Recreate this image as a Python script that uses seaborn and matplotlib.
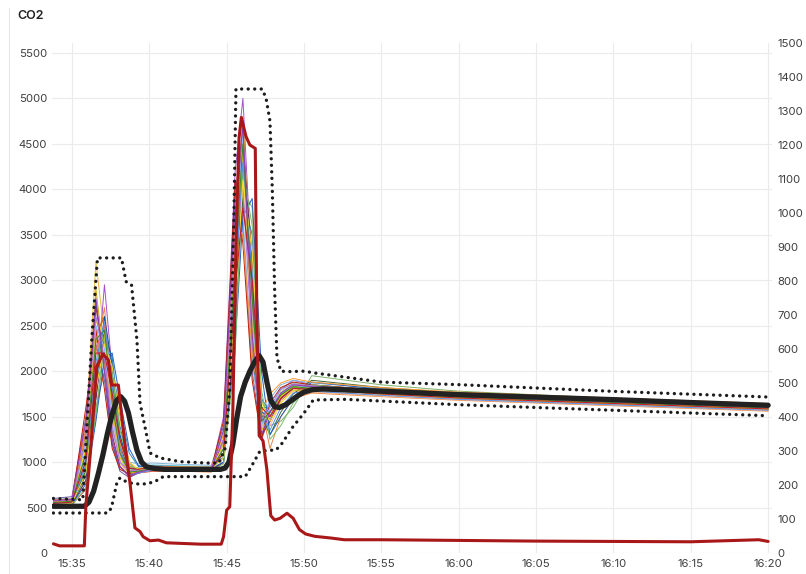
import matplotlib
matplotlib.use("Agg")
import numpy as np
import pandas as pd
import seaborn as sns
import matplotlib.pyplot as plt
from matplotlib.lines import Line2D

# ---------------- data (time in minutes after 15:00) ----------------
sensor_time = [33.8, 35.0, 35.9, 36.55, 37.1, 37.6, 38.1, 38.7, 39.3, 40.2, 42.0, 44.0, 44.8,
               45.55, 46.05, 46.65, 47.25, 47.8, 48.5, 49.3, 50.5, 55, 60, 70, 80]

sensor_01 = [560, 570, 1400, 3200, 2400, 1500, 1000, 900, 920, 950, 940, 930, 1200, 3500, 4300, 2600, 1400, 1550, 1750, 1850, 1820, 1760, 1720, 1660, 1600]
sensor_02 = [540, 600, 900, 1800, 2950, 2000, 1100, 880, 900, 930, 920, 910, 1500, 4200, 5000, 3000, 1500, 1600, 1800, 1900, 1850, 1790, 1740, 1680, 1620]
sensor_03 = [520, 550, 1100, 2750, 2000, 1200, 950, 850, 900, 960, 950, 940, 1100, 3000, 4600, 2200, 1300, 1450, 1700, 1820, 1800, 1750, 1710, 1650, 1590]
sensor_04 = [530, 560, 800, 1500, 2300, 2100, 1300, 950, 930, 940, 930, 920, 1000, 2400, 4000, 3800, 1700, 1400, 1450, 1600, 1950, 1850, 1780, 1700, 1640]
sensor_05 = [580, 590, 1200, 2600, 2200, 1400, 1000, 920, 940, 970, 960, 950, 1300, 3900, 4500, 2400, 1500, 1650, 1800, 1870, 1840, 1780, 1730, 1670, 1610]
sensor_06 = [550, 560, 1000, 2200, 2700, 1800, 1100, 870, 880, 900, 900, 890, 1000, 2600, 4400, 3300, 1600, 1150, 1500, 1700, 1760, 1720, 1680, 1620, 1560]
sensor_07 = [510, 530, 700, 1600, 2000, 1900, 1500, 1000, 880, 900, 910, 900, 1100, 3200, 4700, 2800, 1400, 1500, 1700, 1800, 1790, 1740, 1700, 1640, 1580]
sensor_08 = [540, 550, 950, 2000, 2400, 2150, 1400, 950, 920, 950, 945, 935, 1200, 3600, 4200, 2500, 1350, 1550, 1750, 1840, 1830, 1770, 1720, 1660, 1600]
sensor_09 = [600, 620, 1500, 2300, 1900, 1200, 900, 830, 880, 930, 930, 930, 1400, 4000, 3600, 2000, 1250, 1500, 1720, 1830, 1810, 1760, 1710, 1650, 1590]
sensor_10 = [520, 540, 850, 1700, 2500, 1700, 1050, 900, 910, 940, 935, 925, 1050, 2900, 4100, 3000, 1600, 1600, 1750, 1820, 1800, 1750, 1705, 1645, 1585]
sensor_11 = [560, 580, 1300, 2900, 2100, 1300, 950, 880, 900, 930, 925, 915, 1150, 3400, 4800, 2700, 1450, 1500, 1760, 1860, 1830, 1770, 1720, 1660, 1600]
sensor_12 = [530, 545, 900, 1900, 2200, 2000, 1600, 1100, 950, 960, 950, 940, 1050, 2700, 3900, 3500, 1700, 1550, 1700, 1800, 1790, 1745, 1700, 1640, 1580]
sensor_13 = [570, 580, 1100, 2400, 2600, 1600, 1000, 860, 890, 920, 915, 905, 1250, 3700, 4300, 2300, 1300, 1450, 1680, 1790, 1780, 1735, 1690, 1630, 1570]
sensor_14 = [545, 560, 1000, 2100, 2300, 1750, 1150, 900, 910, 935, 930, 920, 1100, 3100, 4000, 2900, 1550, 1400, 1650, 1780, 1770, 1725, 1685, 1625, 1565]
sensor_15 = [590, 600, 1250, 2500, 2000, 1350, 1050, 1000, 980, 990, 975, 965, 1350, 3800, 3700, 2100, 1400, 1700, 1850, 1900, 1870, 1810, 1760, 1700, 1640]
sensor_16 = [520, 530, 800, 1700, 2450, 1850, 1200, 880, 890, 920, 915, 905, 1000, 2500, 4500, 3200, 1500, 1500, 1720, 1820, 1800, 1750, 1705, 1645, 1585]
sensor_17 = [555, 565, 1050, 2300, 2500, 1550, 1000, 850, 880, 915, 910, 900, 1200, 3300, 4100, 2600, 1350, 1550, 1740, 1830, 1810, 1760, 1715, 1655, 1595]
sensor_18 = [560, 575, 950, 2000, 2350, 1950, 1250, 920, 920, 945, 940, 930, 1150, 2800, 3800, 3100, 1650, 1600, 1780, 1870, 1850, 1790, 1745, 1685, 1625]
sensor_19 = [540, 555, 1150, 2650, 2300, 1450, 980, 860, 885, 915, 910, 900, 1300, 3500, 4200, 2400, 1400, 1500, 1690, 1800, 1790, 1740, 1700, 1640, 1580]
sensor_20 = [530, 540, 880, 1850, 2600, 2050, 1300, 930, 920, 945, 940, 930, 1050, 3000, 4400, 3000, 1550, 1500, 1700, 1810, 1800, 1750, 1705, 1645, 1585]
sensor_21 = [575, 590, 1350, 2700, 2150, 1300, 950, 840, 880, 920, 915, 905, 1250, 3700, 4600, 2500, 1300, 1450, 1700, 1820, 1810, 1760, 1715, 1655, 1595]
sensor_22 = [535, 550, 900, 1950, 2350, 1900, 1250, 900, 905, 930, 925, 915, 1100, 2900, 3900, 2800, 1500, 1300, 1550, 1750, 1900, 1820, 1760, 1690, 1630]
sensor_23 = [550, 565, 1000, 2250, 2500, 1700, 1100, 880, 895, 925, 920, 910, 1150, 3300, 4500, 2700, 1450, 1550, 1730, 1830, 1810, 1755, 1710, 1650, 1590]
sensor_24 = [545, 555, 950, 2050, 2400, 1800, 1150, 890, 900, 930, 925, 915, 1100, 3100, 4300, 2900, 1500, 1550, 1720, 1820, 1800, 1750, 1705, 1645, 1585]
sensor_25 = [565, 575, 1600, 2450, 1800, 1150, 920, 870, 900, 935, 930, 925, 1450, 4100, 3400, 1900, 1250, 1650, 1820, 1880, 1850, 1790, 1740, 1675, 1615]
sensor_26 = [525, 535, 760, 1450, 2150, 2200, 1700, 1150, 960, 950, 940, 930, 1000, 2300, 3700, 3900, 2000, 1300, 1500, 1700, 1880, 1800, 1750, 1680, 1620]
sensor_27 = [550, 560, 1050, 2500, 2250, 1500, 1050, 900, 905, 935, 930, 920, 1150, 3400, 4600, 2600, 1400, 1600, 1760, 1840, 1820, 1765, 1720, 1660, 1600]
sensor_28 = [585, 595, 1350, 2350, 2050, 1650, 1200, 950, 930, 955, 950, 945, 1300, 3600, 3500, 2200, 1550, 1750, 1870, 1920, 1880, 1820, 1770, 1705, 1645]
sensor_29 = [515, 525, 720, 1550, 2350, 1950, 1350, 980, 900, 920, 915, 905, 980, 2200, 4200, 3600, 1800, 1250, 1400, 1650, 1850, 1780, 1730, 1665, 1605]
sensor_30 = [560, 570, 1150, 2550, 2400, 1600, 1050, 880, 895, 925, 920, 910, 1200, 3300, 4400, 2500, 1350, 1500, 1720, 1830, 1810, 1755, 1710, 1650, 1590]
sensor_31 = [540, 550, 980, 2100, 2550, 1850, 1150, 860, 880, 910, 905, 895, 1100, 3000, 4300, 3100, 1500, 1350, 1600, 1760, 1780, 1735, 1690, 1630, 1570]
sensor_32 = [570, 585, 1250, 2600, 2150, 1400, 1000, 900, 915, 945, 940, 930, 1250, 3500, 4000, 2300, 1450, 1650, 1800, 1860, 1840, 1785, 1735, 1670, 1610]
sensor_33 = [535, 545, 880, 1800, 2300, 2050, 1450, 1000, 920, 935, 930, 920, 1050, 2700, 4100, 3300, 1650, 1450, 1650, 1790, 1800, 1750, 1705, 1645, 1585]
sensor_34 = [555, 570, 1100, 2350, 2450, 1650, 1100, 890, 900, 930, 925, 915, 1150, 3200, 4500, 2800, 1450, 1550, 1740, 1830, 1810, 1760, 1715, 1655, 1595]
sensor_35 = [545, 560, 1020, 2200, 2200, 1750, 1250, 930, 920, 945, 940, 930, 1100, 2900, 3800, 3000, 1600, 1500, 1700, 1810, 1800, 1750, 1705, 1645, 1585]
sensor_36 = [580, 590, 1450, 2800, 2000, 1250, 950, 850, 890, 925, 920, 910, 1350, 3900, 4700, 2400, 1300, 1550, 1760, 1850, 1830, 1775, 1725, 1665, 1605]

sensors = [sensor_01, sensor_02, sensor_03, sensor_04, sensor_05, sensor_06, sensor_07, sensor_08,
           sensor_09, sensor_10, sensor_11, sensor_12, sensor_13, sensor_14, sensor_15, sensor_16,
           sensor_17, sensor_18, sensor_19, sensor_20, sensor_21, sensor_22, sensor_23, sensor_24,
           sensor_25, sensor_26, sensor_27, sensor_28, sensor_29, sensor_30, sensor_31, sensor_32,
           sensor_33, sensor_34, sensor_35, sensor_36]

sensor_colors = ["#EAB839", "#A352CC", "#0A437C", "#7EB26D", "#6ED0E0", "#EF843C", "#E24D42", "#1F78C1",
                 "#705DA0", "#508642", "#CCA300", "#447EBC", "#C15C17", "#F9BA8F", "#82B5D8", "#6D1F62",
                 "#E5A8E2", "#B7DBAB", "#F4D598", "#0A50A1", "#962D82", "#3F6833", "#EA6460", "#629E51",
                 "#BF1B00", "#1F60C4", "#8AB8FF", "#FF9830", "#73BF69", "#F2CC0C", "#5794F2", "#B877D9",
                 "#FADE2A", "#37872D", "#C4162A", "#8F3BB8"]

mean_time = [33.8, 35.8, 36.1, 36.4, 36.7, 37.0, 37.3, 37.6, 37.9, 38.15, 38.4, 38.65, 38.9,
             39.2, 39.5, 39.8, 40.3, 41.0, 44.6, 44.9, 45.15, 45.4, 45.65, 45.9, 46.2, 46.5,
             46.8, 47.1, 47.35, 47.6, 47.85, 48.1, 48.4, 48.8, 49.2, 49.6, 50.0, 50.5, 51.2,
             55, 60, 65, 70, 75, 80]
mean_value = [514, 514, 560, 680, 870, 1080, 1320, 1530, 1680, 1720, 1670, 1540, 1340,
              1130, 1000, 950, 930, 920, 920, 935, 1000, 1200, 1480, 1720, 1880, 2000,
              2100, 2170, 2100, 1880, 1680, 1610, 1600, 1630, 1680, 1730, 1770, 1795, 1805,
              1780, 1742, 1715, 1687, 1655, 1625]

max_time = [33.8, 35.7, 36.0, 36.3, 36.65, 38.2, 38.5, 38.85, 39.2, 39.4, 39.8, 40.05, 40.7, 42.0,
            43.7, 44.5, 44.9, 45.2, 45.45, 45.6, 47.3, 47.55, 47.8, 47.95, 48.1, 48.25, 48.5,
            49.0, 50.0, 50.7, 55, 60, 70, 80]
max_value = [600, 585, 1500, 2400, 3246, 3246, 2985, 2950, 2343, 1650, 1320, 1100, 1045, 1005,
             990, 990, 1150, 1800, 3500, 5104, 5104, 5000, 4750, 4000, 2900, 2150, 2000,
             1995, 2000, 1980, 1880, 1852, 1778, 1716]

min_time = [33.8, 37.3, 37.55, 37.9, 38.1, 38.5, 39.0, 39.8, 40.35, 40.9, 42.0, 44.6, 46.2,
            46.65, 47.15, 48.2, 48.6, 49.2, 50.0, 50.6, 52.7, 60, 70, 80]
min_value = [440, 440, 495, 770, 825, 785, 760, 760, 785, 840, 840, 840, 840,
             968, 1120, 1135, 1210, 1370, 1540, 1683, 1690, 1631, 1570, 1510]

red_time = [33.8, 34.2, 35.8, 35.9, 36.2, 36.6, 37.0, 37.35, 37.57, 38.0, 38.1, 38.4, 38.75,
            39.07, 39.4, 39.6, 40.04, 40.6, 41.1, 43.3, 44.65, 44.8, 45.0, 45.2, 45.4, 45.6,
            45.8, 45.95, 46.25, 46.5, 46.85, 46.95, 47.1, 47.35, 47.6, 47.85, 48.1, 48.45,
            48.9, 49.3, 49.7, 50.1, 50.7, 51.75, 52.6, 55, 60, 65, 70, 75, 79.4, 80]
red_value = [27, 21, 21, 140, 300, 548, 585, 568, 494, 494, 450, 330, 206,
             74, 63, 48, 36, 38, 30, 26, 26, 48, 126, 136, 420, 900,
             1220, 1281, 1225, 1200, 1190, 700, 345, 330, 245, 110, 97, 102,
             117, 102, 69, 56, 49, 44, 39, 39, 37, 35, 34, 33, 39, 34]

x_tick_minutes = [35, 40, 45, 50, 55, 60, 65, 70, 75, 80]
x_tick_labels = ["15:35", "15:40", "15:45", "15:50", "15:55", "16:00", "16:05", "16:10", "16:15", "16:20"]
left_ticks = list(range(0, 5501, 500))
right_ticks = list(range(0, 1501, 100))
title_text = "CO2"

# ---------------- figure ----------------
sns.set_theme(style="white")
plt.rcParams['font.family'] = ['Inter', 'DejaVu Sans']

W, H = 806, 574
fig = plt.figure(figsize=(W / 100, H / 100), dpi=100)
fig.patch.set_facecolor("white")
ax = fig.add_axes([52 / W, (H - 553) / H, (772 - 52) / W, (553 - 43) / H])

long = pd.DataFrame({
    "minute": np.tile(sensor_time, len(sensors)),
    "co2": np.concatenate([np.asarray(s, float) for s in sensors]),
    "sensor": np.repeat([f"s{i+1:02d}" for i in range(len(sensors))], len(sensor_time)),
})
sns.lineplot(data=long, x="minute", y="co2", hue="sensor", palette=sensor_colors,
             estimator=None, errorbar=None, legend=False, lw=0.7, ax=ax)

dot_style = dict(color="#1c1c1c", lw=2.4, linestyle=(0, (0.01, 1.95)),
                 dash_capstyle="round", estimator=None, errorbar=None)
sns.lineplot(x=max_time, y=max_value, ax=ax, **dot_style)
sns.lineplot(x=min_time, y=min_value, ax=ax, **dot_style)
sns.lineplot(x=mean_time, y=mean_value, ax=ax, color="#222222", lw=3.8,
             estimator=None, errorbar=None, solid_joinstyle="round", solid_capstyle="round")

ax.set_xlim(33.71, 80.25)
ax.set_ylim(0, 5610)
ax.set_xticks(x_tick_minutes)
ax.set_xticklabels(x_tick_labels)
ax.set_yticks(left_ticks)
ax.set_yticklabels([str(v) for v in left_ticks])
ax.set_xlabel("")
ax.set_ylabel("")
ax.grid(True, color="#ebebeb", lw=0.8)
ax.set_axisbelow(True)
ax.tick_params(axis="both", length=0, labelsize=8.2, colors="#3f3f3f")
ax.tick_params(axis="x", pad=4.5)
ax.tick_params(axis="y", pad=3.4)
for sp in ax.spines.values():
    sp.set_visible(False)

ax2 = ax.twinx()
sns.lineplot(x=red_time, y=red_value, ax=ax2, color="#A81818", lw=2.2,
             estimator=None, errorbar=None, solid_joinstyle="round")
ax2.set_ylim(0, 1500)
ax2.set_yticks(right_ticks)
ax2.set_yticklabels([str(v) for v in right_ticks])
ax2.set_ylabel("")
ax2.grid(False)
ax2.tick_params(axis="y", length=0, labelsize=8.2, colors="#3f3f3f", pad=4.0)
for sp in ax2.spines.values():
    sp.set_visible(False)

fig.text(17 / W, 1 - 16 / H, title_text, fontsize=9, fontweight="semibold",
         color="#222222", va="center", ha="left")
fig.add_artist(Line2D([9 / W, 9 / W], [0, 1 - 8 / H], color="#e6e6e6", lw=0.8))

fig.savefig("out.png", dpi=100, facecolor="white")
